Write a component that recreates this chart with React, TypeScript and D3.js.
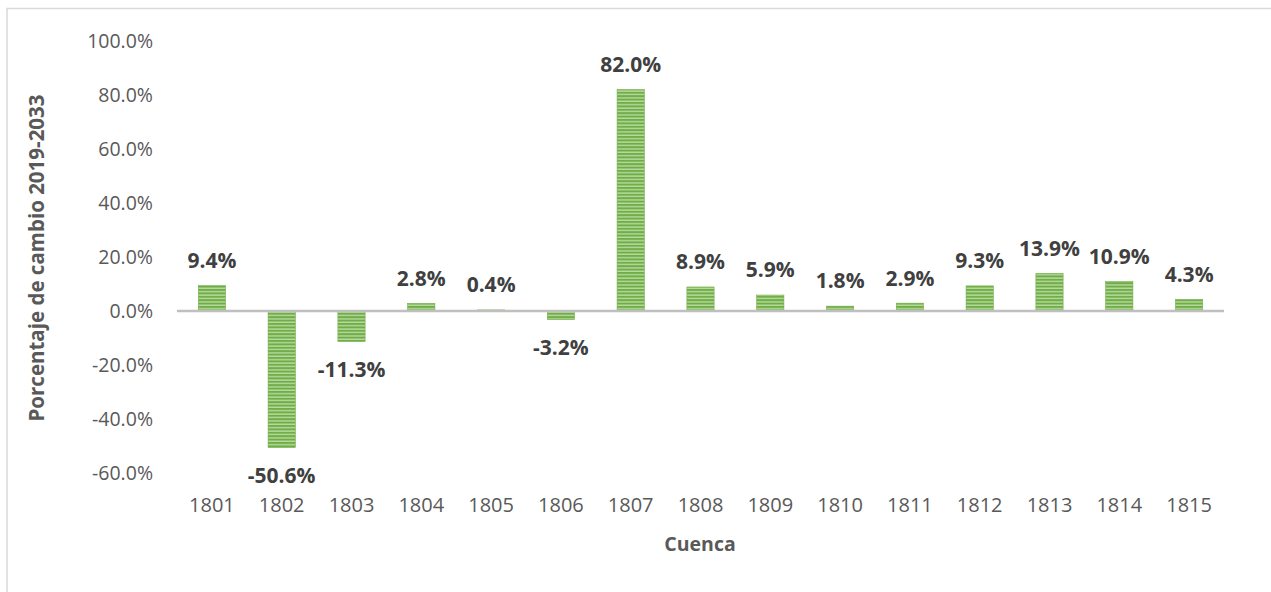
import React from "react";
import * as d3 from "d3";

const categories = ["1801", "1802", "1803", "1804", "1805", "1806", "1807", "1808", "1809", "1810", "1811", "1812", "1813", "1814", "1815"];
const values = [9.4, -50.6, -11.3, 2.8, 0.4, -3.2, 82.0, 8.9, 5.9, 1.8, 2.9, 9.3, 13.9, 10.9, 4.3];
const yTicks = [-60, -40, -20, 0, 20, 40, 60, 80, 100];

const W = 1271;
const H = 592;
const FONT = "'Open Sans', 'Noto Sans', sans-serif";

export default function App() {
  const x = d3.scaleBand<string>().domain(categories).range([177, 1224]).paddingInner(0.61).paddingOuter(0.305);
  const y = d3.scaleLinear().domain([-60, 100]).range([473, 41]);
  const fmt = (v: number) => v.toFixed(1) + "%";

  return (
    <div style={{ position: "absolute", left: 0, top: 0 }}>
      <svg width={W} height={H} style={{ display: "block", background: "#fff" }}>
        <defs>
          {/* narrow horizontal stripe fill for the bars */}
          <pattern id="hstripe" patternUnits="userSpaceOnUse" width={8} height={3.4}>
            <rect x={0} y={0} width={8} height={3.4} fill="#b8dba0" />
            <rect x={0} y={0} width={8} height={2} fill="#70ad47" />
          </pattern>
        </defs>
        <rect x={7} y={8.5} width={W + 10} height={H + 10} fill="#fff" stroke="#d9d9d9" strokeWidth={1.5} />

        {yTicks.map((t) => (
          <text key={t} x={153} y={y(t)} dy="0.35em" textAnchor="end" fontFamily={FONT} fontSize={19.5} fill="#595959">
            {fmt(t)}
          </text>
        ))}

        {categories.map((c, i) => {
          const v = values[i];
          const y0 = y(0);
          const y1 = y(v);
          const top = Math.min(y0, y1);
          const h = Math.abs(y1 - y0);
          const cx = (x(c) as number) + x.bandwidth() / 2;
          return (
            <g key={c}>
              <rect x={x(c)} y={top} width={x.bandwidth()} height={h} fill="url(#hstripe)" stroke="#70ad47" strokeWidth={0.6} />
              <text
                x={cx}
                y={v >= 0 ? y1 - 25 : y1 + 28}
                dy="0.35em"
                textAnchor="middle"
                fontFamily={FONT}
                fontSize={21}
                fontWeight="bold"
                fill="#404040"
              >
                {fmt(v)}
              </text>
              <text x={cx} y={505} dy="0.35em" textAnchor="middle" fontFamily={FONT} fontSize={20} fill="#595959">
                {c}
              </text>
            </g>
          );
        })}

        <line x1={177} x2={1224} y1={y(0)} y2={y(0)} stroke="#bfbfbf" strokeWidth={2.5} />

        <text x={700} y={544} dy="0.35em" textAnchor="middle" fontFamily={FONT} fontSize={19.5} fontWeight="bold" fill="#595959">
          Cuenca
        </text>
        <text
          transform={`translate(37,258) rotate(-90)`}
          dy="0.35em"
          textAnchor="middle"
          fontFamily={FONT}
          fontSize={20.5}
          fontWeight="bold"
          fill="#595959"
        >
          Porcentaje de cambio 2019-2033
        </text>
      </svg>
    </div>
  );
}
